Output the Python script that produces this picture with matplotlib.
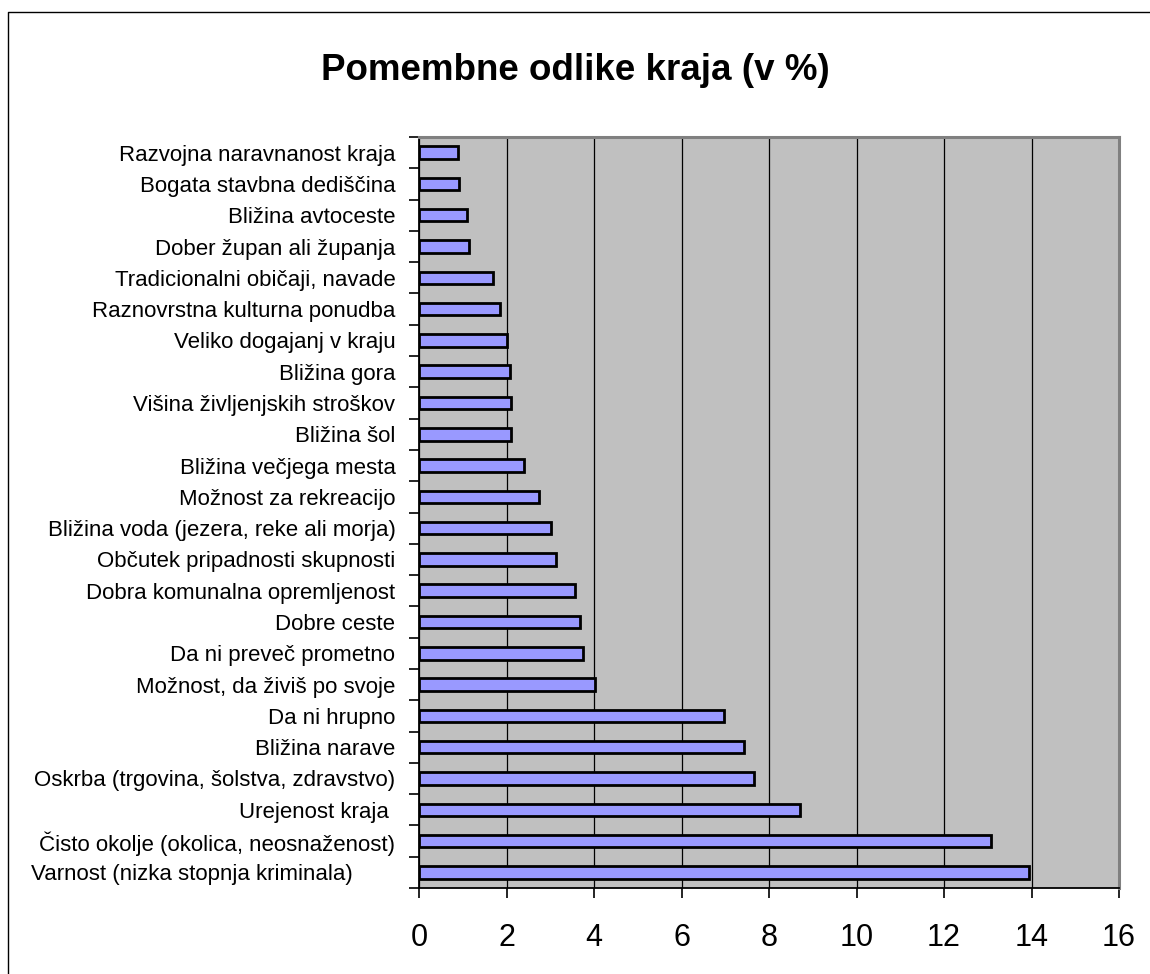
import matplotlib
matplotlib.use("Agg")
import matplotlib.pyplot as plt
from matplotlib.lines import Line2D
import numpy as np

plt.rcParams['font.family'] = ['Liberation Sans', 'DejaVu Sans']

# Categories listed top to bottom as in the chart
categories = [
    "Razvojna naravnanost kraja",
    "Bogata stavbna dediščina",
    "Bližina avtoceste",
    "Dober župan ali županja",
    "Tradicionalni običaji, navade",
    "Raznovrstna kulturna ponudba",
    "Veliko dogajanj v kraju",
    "Bližina gora",
    "Višina življenjskih stroškov",
    "Bližina šol",
    "Bližina večjega mesta",
    "Možnost za rekreacijo",
    "Bližina voda (jezera, reke ali morja)",
    "Občutek pripadnosti skupnosti",
    "Dobra komunalna opremljenost",
    "Dobre ceste",
    "Da ni preveč prometno",
    "Možnost, da živiš po svoje",
    "Da ni hrupno",
    "Bližina narave",
    "Oskrba (trgovina, šolstva, zdravstvo)",
    "Urejenost kraja ",
    "Čisto okolje (okolica, neosnaženost)",
    "Varnost (nizka stopnja kriminala)       ",
]
values = [0.89, 0.91, 1.09, 1.15, 1.70, 1.85, 2.00, 2.08, 2.11, 2.11,
          2.40, 2.74, 3.02, 3.14, 3.57, 3.68, 3.75, 4.03, 6.97, 7.43,
          7.66, 8.70, 13.07, 13.94]
xticks = [0, 2, 4, 6, 8, 10, 12, 14, 16]
title = "Pomembne odlike kraja (v %)"

W, H = 1150, 974
fig = plt.figure(figsize=(W / 100, H / 100), dpi=100)
fig.patch.set_facecolor("white")

ax = fig.add_axes([419 / W, 1 - 888 / H, (1119 - 419) / W, (888 - 137) / H])
ax.set_facecolor("#C0C0C0")

n = len(categories)
ypos = np.arange(n)[::-1]
ax.barh(ypos, values, height=0.40, color="#9999FF", edgecolor="black",
        linewidth=2.0, zorder=3)

ax.set_xlim(0, 16)
ax.set_ylim(-0.5, n - 0.5)
ax.set_xticks(xticks)
ax.set_xticklabels([str(t) for t in xticks], fontsize=22)
ax.tick_params(axis="x", direction="out", length=7, width=1.2, pad=18,
               colors="black")

ax.set_yticks(ypos)
ax.set_yticklabels(categories, fontsize=16)
ax.tick_params(axis="y", which="major", length=0, pad=17)
ax.set_yticks(np.arange(-0.5, n, 1.0), minor=True)
ax.tick_params(axis="y", which="minor", direction="out", length=7, width=1.2)

ax.grid(axis="x", color="black", linewidth=0.9, zorder=1)
ax.set_axisbelow(True)

for side in ("left", "bottom"):
    ax.spines[side].set_color("black")
    ax.spines[side].set_linewidth(1.3)
for side in ("top", "right"):
    ax.spines[side].set_color("#808080")
    ax.spines[side].set_linewidth(2.2)

fig.text(575 / W, 1 - 70 / H, title, ha="center", va="center",
         fontsize=26.5, fontweight="bold")

# figure border (top and left visible)
fig.add_artist(Line2D([8 / W, 8 / W, 1.0], [0.0, 1 - 12 / H, 1 - 12 / H],
                      transform=fig.transFigure, color="black", linewidth=1.0))

fig.savefig("out.png", dpi=100)
